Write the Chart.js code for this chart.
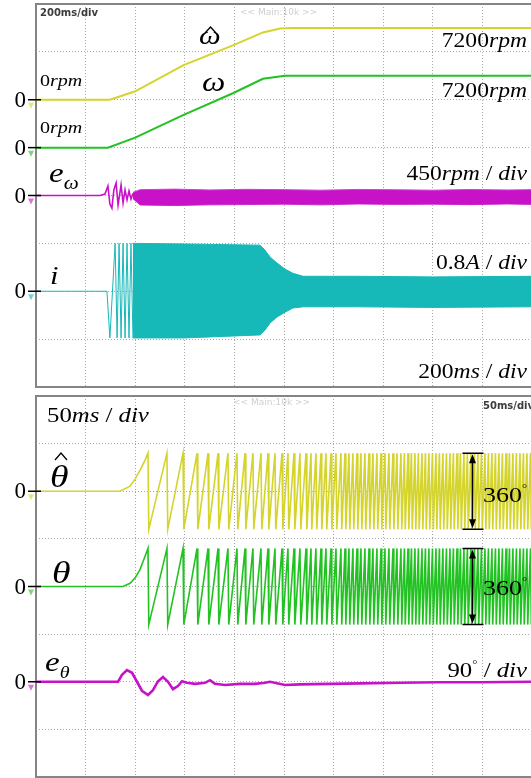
<!DOCTYPE html>
<html lang="en">
<head>
<meta charset="UTF-8">
<title>Start-up waveforms</title>
<style>
    html, body { margin: 0; padding: 0; background: #fff; overflow: hidden; }
    body { width: 531px; height: 778px; position: relative; }
    canvas { position: absolute; left: 0; top: 0; }
</style>
</head>
<body>
<canvas id="topChart" width="540" height="778"></canvas>
<canvas id="bottomChart" width="540" height="778"></canvas>

<script src="https://cdn.jsdelivr.net/npm/chart.js"></script>
<script>
// ---------- upper screen, 200 ms/div ----------
const omegaHatT   = [0, 298, 400, 593, 794, 915, 984, 1032, 2000];
const omegaHatRpm = [0, 0, 850, 3450, 5450, 6750, 7150, 7200, 7200];

const omegaT   = [0, 290, 400, 593, 794, 915, 1004, 2000];
const omegaRpm = [0, 0, 1000, 3250, 5450, 6900, 7200, 7200];

// speed error: start-up burst, then a noise band
const errOmegaT   = [0, 258, 278, 290, 298, 306, 314, 323, 331, 343, 351, 359, 367, 375, 383, 391];
const errOmegaRpm = [0, 0, 14, 89, -80, -118, 52, 118, -89, 99, -71, 52, -42, 42, -33, 20];
const errBandT     = [391, 420, 560, 700, 850, 1000, 1150, 1300, 1450, 1600, 1750, 1900, 2000];
const errBandUpper = [30, 55, 60, 52, 58, 55, 50, 57, 54, 50, 56, 52, 55];
const errBandLower = [-30, -90, -95, -88, -85, -82, -88, -80, -84, -82, -86, -80, -84];

// phase current: first cycles, then envelope of the dense part
const currentT = [0, 286, 298, 319, 327, 335, 343, 351, 359, 367, 375, 383, 391];
const currentA = [0, 0, -0.78, 0.80, -0.78, 0.80, -0.78, 0.80, -0.78, 0.80, -0.78, 0.80, -0.78];
const curBandT     = [391, 600, 903, 923, 944, 972, 1004, 1036, 1077, 1300, 1600, 2000];
const curBandUpper = [0.80, 0.79, 0.77, 0.69, 0.57, 0.47, 0.37, 0.30, 0.25, 0.25, 0.24, 0.25];
const curBandLower = [-0.78, -0.78, -0.73, -0.65, -0.53, -0.43, -0.35, -0.28, -0.26, -0.26, -0.27, -0.26];

// ---------- lower screen, 50 ms/div ----------
const thetaHatRampT   = [0, 84.7, 94.8, 99.8, 104.8, 109.9];
const thetaHatRampDeg = [0, 0, 24, 57, 99, 147];
const thetaRampT   = [0, 87.7, 94.8, 99.8, 104.8, 108.9];
const thetaRampDeg = [0, 0, 15, 40, 80, 130];

// instants where both angles wrap from +180 to -180 (same at this time scale)
const wrapT = [112.9, 132.0, 148.2, 162.3, 173.4, 183.5, 193.5, 202.6, 210.7, 218.7,
    226.8, 233.9, 240.9, 248.0, 254.0, 260.1, 266.1, 272.2, 277.2, 282.2,
    287.3, 292.3, 297.4, 302.4, 307.4, 311.5, 315.5, 319.5, 323.6, 327.6,
    331.6, 335.7, 339.7, 343.7, 347.8, 351.8, 355.8, 359.9, 363.9, 367.9,
    371.4, 375.0, 378.5, 382.0, 385.5, 389.1, 392.6, 396.1, 399.7, 403.2,
    406.7, 410.2, 413.8, 417.3, 420.8, 424.4, 427.9, 431.4, 434.9, 438.5,
    442.0, 445.5, 449.1, 452.6, 456.1, 459.6, 463.2, 466.7, 470.2, 473.8,
    477.3, 480.8, 484.3, 487.9, 491.4, 494.9, 498.5];
const dropMs = 0.8;

const errThetaT   = [0, 82.7, 86.7, 91.7, 96.8, 101.8, 106.8, 112.9, 117.9, 123, 128, 133.1, 138.1, 143.1,
    147.2, 152.2, 160.3, 170.4, 175.4, 180.4, 190.5, 205.6, 220.8, 230.8, 235.9, 251, 266, 296, 327, 367, 407, 448, 500];
const errThetaDeg = [0, 0, 13, 22, 17, 0, -17, -25, -16, 1, 9, 0, -14, -8,
    1, -2, -4, -2, 3, -4, -6, -4, -4, -2, 0, -6, -5, -4, -3, -2, -1, -1, 0];

const YELLOW = '#d4d42c', GREEN = '#22c222', MAGENTA = '#c812c8', CYAN = '#17b8b8';
const SERIF = '"Liberation Serif", "Times New Roman", serif';
const SX = 1.18; // labels in the scan are stretched horizontally

const pts = (ts, vs) => ts.map((t, k) => ({ x: t, y: vs[k] }));
function sawtooth(rt, rv) {
    const p = pts(rt, rv);
    wrapT.forEach(w => { p.push({ x: w, y: 180 }); p.push({ x: w + dropMs, y: -180 }); });
    return p;
}
// axis that puts a channel's zero at offsetDiv divisions from the centre
const chanAxis = (offsetDiv, perDiv) => ({ display: false, min: (-4 - offsetDiv) * perDiv, max: (4 - offsetDiv) * perDiv });

const R = s => s + 'px ' + SERIF;
const I = s => 'italic ' + s + 'px ' + SERIF;

function runs(ctx, parts, x, y, align) {
    let w = 0;
    parts.forEach(p => { ctx.font = p[1]; w += ctx.measureText(p[0]).width; });
    let cx = align === 'right' ? x - w * SX : x;
    ctx.fillStyle = '#000';
    ctx.textBaseline = 'alphabetic';
    ctx.textAlign = 'left';
    parts.forEach(p => {
        ctx.font = p[1];
        ctx.save();
        ctx.translate(cx, y + (p[2] || 0));
        ctx.scale(SX, 1);
        ctx.fillText(p[0], 0, 0);
        ctx.restore();
        cx += ctx.measureText(p[0]).width * SX;
    });
}
function hat(ctx, x, y, w, h) {
    ctx.save();
    ctx.strokeStyle = '#000';
    ctx.lineWidth = 1.3;
    ctx.beginPath();
    ctx.moveTo(x, y + h); ctx.lineTo(x + w / 2, y); ctx.lineTo(x + w, y + h);
    ctx.stroke();
    ctx.restore();
}
function zeroMark(ctx, y, color) {
    ctx.save();
    ctx.fillStyle = '#000';
    ctx.font = R(23);
    ctx.textAlign = 'right';
    ctx.textBaseline = 'middle';
    ctx.fillText('0', 26, y + 1);
    ctx.strokeStyle = '#000';
    ctx.lineWidth = 1.5;
    ctx.beginPath(); ctx.moveTo(28, y); ctx.lineTo(41, y); ctx.stroke();
    ctx.fillStyle = color;
    ctx.globalAlpha = 0.6;
    ctx.beginPath(); ctx.moveTo(28, y + 3); ctx.lineTo(34, y + 3); ctx.lineTo(31, y + 9); ctx.closePath(); ctx.fill();
    ctx.restore();
}
function frame(chart) {
    const a = chart.chartArea, ctx = chart.ctx;
    ctx.save();
    ctx.strokeStyle = '#858585';
    ctx.lineWidth = 2;
    ctx.beginPath();
    ctx.moveTo(a.right, a.top); ctx.lineTo(a.left, a.top); ctx.lineTo(a.left, a.bottom); ctx.lineTo(a.right, a.bottom);
    ctx.stroke();
    ctx.restore();
}
function scopeText(ctx, main, x1, y1, x2, y2) {
    ctx.save();
    ctx.font = 'bold 10px "DejaVu Sans"';
    ctx.fillStyle = '#3c3c3c';
    ctx.fillText(main, x1, y1);
    ctx.font = '9px "DejaVu Sans"';
    ctx.fillStyle = '#cfcfcf';
    ctx.fillText('<< Main:10k >>', x2, y2);
    ctx.restore();
}
function bracket(ctx, x, yTop, yBot) {
    ctx.save();
    ctx.strokeStyle = '#000'; ctx.fillStyle = '#000'; ctx.lineWidth = 1.5;
    ctx.beginPath();
    ctx.moveTo(x - 10, yTop); ctx.lineTo(x + 11, yTop);
    ctx.moveTo(x - 10, yBot); ctx.lineTo(x + 11, yBot);
    ctx.moveTo(x, yTop + 6); ctx.lineTo(x, yBot - 6);
    ctx.stroke();
    ctx.beginPath(); ctx.moveTo(x, yTop + 1); ctx.lineTo(x - 3.5, yTop + 10); ctx.lineTo(x + 3.5, yTop + 10); ctx.closePath(); ctx.fill();
    ctx.beginPath(); ctx.moveTo(x, yBot - 1); ctx.lineTo(x - 3.5, yBot - 10); ctx.lineTo(x + 3.5, yBot - 10); ctx.closePath(); ctx.fill();
    ctx.restore();
}

const gridAxis = { min: -4, max: 4, ticks: { display: false, stepSize: 1 },
    grid: { color: '#a8a8a8', drawTicks: false }, border: { display: false, dash: [1, 2] } };
const timeAxis = max => ({ type: 'linear', min: 0, max: max, ticks: { display: false, stepSize: max / 10 },
    grid: { color: '#a8a8a8', drawTicks: false }, border: { display: false, dash: [1, 2] } });

const line = (data, color, width, axis, extra) => Object.assign({
    data: data, borderColor: color, borderWidth: width, pointRadius: 0, tension: 0, fill: false, yAxisID: axis
}, extra || {});

const baseOptions = {
    responsive: false, animation: false, events: [],
    plugins: { legend: { display: false }, tooltip: { enabled: false } }
};

// upper screen
new Chart(document.getElementById('topChart'), {
    type: 'line',
    data: {
        datasets: [
            line(pts(omegaHatT, omegaHatRpm), YELLOW, 2, 'yWh'),
            line(pts(omegaT, omegaRpm), GREEN, 2, 'yW'),
            line(pts(errOmegaT, errOmegaRpm), MAGENTA, 1.6, 'yEw'),
            line(pts(errBandT, errBandUpper), '#d040d0', 1, 'yEw', { fill: '+1', backgroundColor: MAGENTA }),
            line(pts(errBandT, errBandLower), '#d040d0', 1, 'yEw'),
            line(pts(currentT, currentA), CYAN, 1, 'yI'),
            line(pts(curBandT, curBandUpper), CYAN, 1, 'yI', { fill: '+1', backgroundColor: CYAN }),
            line(pts(curBandT, curBandLower), CYAN, 1, 'yI')
        ]
    },
    options: Object.assign({}, baseOptions, {
        layout: { padding: { left: 36, top: 4, right: 8, bottom: 391 } },
        scales: {
            x: timeAxis(2000),
            y: gridAxis,
            yWh: chanAxis(2, 4800),
            yW: chanAxis(1, 4800),
            yEw: chanAxis(0, 450),
            yI: chanAxis(-2, 0.8)
        }
    }),
    plugins: [{
        id: 'topDecor',
        beforeDatasetsDraw: frame,
        afterDraw(chart) {
            const ctx = chart.ctx, s = chart.scales;
            zeroMark(ctx, s.yWh.getPixelForValue(0), YELLOW);
            zeroMark(ctx, s.yW.getPixelForValue(0), GREEN);
            zeroMark(ctx, s.yEw.getPixelForValue(0), MAGENTA);
            zeroMark(ctx, s.yI.getPixelForValue(0), CYAN);
            scopeText(ctx, '200ms/div', 40, 16, 240, 15);
            runs(ctx, [['0', R(17)], ['rpm', I(17)]], 40, 86);
            runs(ctx, [['0', R(17)], ['rpm', I(17)]], 40, 133);
            runs(ctx, [['ω', I(26)]], 199, 44);
            hat(ctx, 205, 27, 11, 6);
            runs(ctx, [['ω', I(28)]], 202, 91);
            runs(ctx, [['7200', R(20)], ['rpm', I(20)]], 527, 47, 'right');
            runs(ctx, [['7200', R(20)], ['rpm', I(20)]], 527, 97, 'right');
            runs(ctx, [['e', I(28)], ['ω', I(18), 7]], 49, 182);
            runs(ctx, [['450', R(20)], ['rpm', I(20)], [' / ', R(20)], ['div', I(20)]], 527, 180, 'right');
            runs(ctx, [['i', I(26)]], 50, 284);
            runs(ctx, [['0.8', R(20)], ['A', I(20)], [' / ', R(20)], ['div', I(20)]], 527, 269, 'right');
            runs(ctx, [['200', R(20)], ['ms', I(20)], [' / ', R(20)], ['div', I(20)]], 527, 378, 'right');
        }
    }]
});

// lower screen
new Chart(document.getElementById('bottomChart'), {
    type: 'line',
    data: {
        datasets: [
            line(pts(errThetaT, errThetaDeg), MAGENTA, 2.6, 'yEt'),
            line(sawtooth(thetaRampT, thetaRampDeg), GREEN, 1.6, 'yT'),
            line(sawtooth(thetaHatRampT, thetaHatRampDeg), YELLOW, 1.6, 'yTh')
        ]
    },
    options: Object.assign({}, baseOptions, {
        layout: { padding: { left: 36, top: 396, right: 8, bottom: 1 } },
        scales: {
            x: timeAxis(500),
            y: gridAxis,
            yTh: chanAxis(2, 225),
            yT: chanAxis(0, 225),
            yEt: chanAxis(-2, 90)
        }
    }),
    plugins: [{
        id: 'bottomDecor',
        beforeDatasetsDraw: frame,
        afterDraw(chart) {
            const ctx = chart.ctx, s = chart.scales;
            zeroMark(ctx, s.yTh.getPixelForValue(0), YELLOW);
            zeroMark(ctx, s.yT.getPixelForValue(0), GREEN);
            zeroMark(ctx, s.yEt.getPixelForValue(0), MAGENTA);
            scopeText(ctx, '50ms/div', 483, 409, 233, 405);
            runs(ctx, [['50', R(21)], ['ms', I(21)], [' / ', R(21)], ['div', I(21)]], 47, 422);
            runs(ctx, [['θ', I(32)]], 50, 487);
            hat(ctx, 55, 453, 12, 7);
            runs(ctx, [['θ', I(32)]], 52, 583);
            runs(ctx, [['e', I(28)], ['θ', I(17), 7]], 45, 671);
            runs(ctx, [['90', R(21)], ['°', R(11), -9], [' / ', R(21)], ['div', I(21)]], 527, 677, 'right');
            const bx = s.x.getPixelForValue(440);
            bracket(ctx, bx, s.yTh.getPixelForValue(180), s.yTh.getPixelForValue(-180));
            bracket(ctx, bx, s.yT.getPixelForValue(180), s.yT.getPixelForValue(-180));
            runs(ctx, [['360', R(22)], ['°', R(11), -10]], 483, 502);
            runs(ctx, [['360', R(22)], ['°', R(11), -10]], 483, 595);
        }
    }]
});
</script>
</body>
</html>
